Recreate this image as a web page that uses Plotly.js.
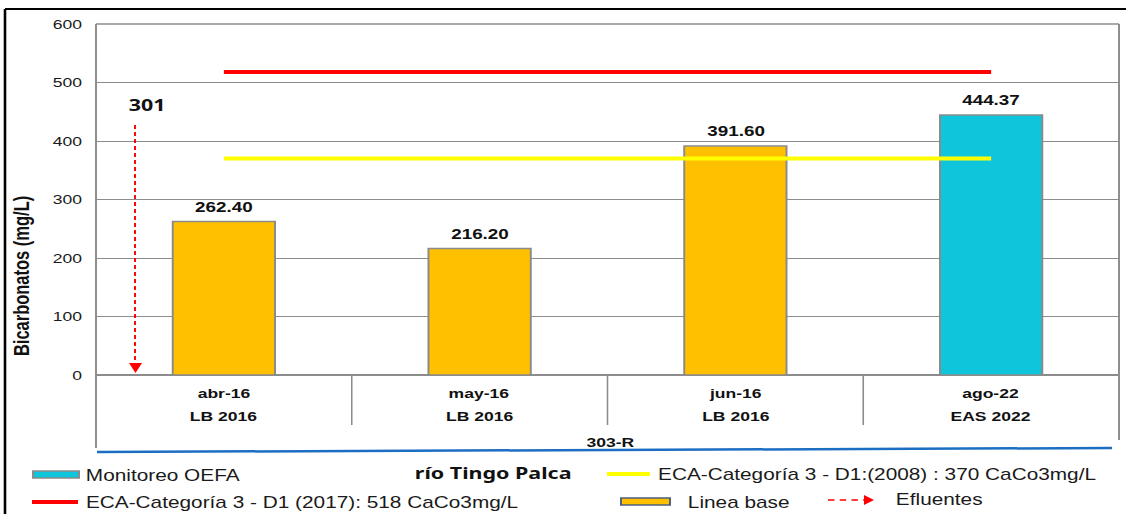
<!DOCTYPE html>
<html>
<head>
<meta charset="utf-8">
<script src="https://cdn.plot.ly/plotly-3.0.1.min.js"></script>
<style>
  html, body { margin: 0; padding: 0; background: #fff; overflow: hidden; }
  #chart { width: 866px; height: 514px; transform: scaleX(1.30023); transform-origin: 0 0; }
</style>
</head>
<body>
<div id="chart"></div>
<script>
// ---- data ----
const months = ["abr-16", "may-16", "jun-16", "ago-22"];
const campaigns = ["LB 2016", "LB 2016", "LB 2016", "EAS 2022"];
const sources = ["Linea base", "Linea base", "Linea base", "Monitoreo OEFA"];
const bicarbonatos = [262.40, 216.20, 391.60, 444.37];
const eca2017 = 518;
const eca2008 = 370;
const yTicks = [0, 100, 200, 300, 400, 500, 600];
const stationLabel = "303-R";
const riverLabel = "río Tingo Palca";
const effluentLabel = "301";
const legendLabels = {
  oefa: "Monitoreo OEFA",
  eca2008: "ECA-Categoría 3 - D1:(2008) : 370 CaCo3mg/L",
  eca2017: "ECA-Categoría 3 - D1 (2017): 518 CaCo3mg/L",
  base: "Linea base",
  effl: "Efluentes"
};

// ---- styling helpers ----
const W = 1126, H = 514;
const px = x => x / W;           // target pixel -> paper x
const py = y => 1 - y / H;       // target pixel -> paper y
const ORANGE = "#FFC000", CYAN = "#0EC5DC", GRID = "#8c8c8c";
const FONT = "Liberation Sans, Arial, sans-serif";

const traces = [
  {
    type: "bar",
    x: months,
    y: bicarbonatos,
    width: 0.4,
    marker: {
      color: sources.map(s => s === "Linea base" ? ORANGE : CYAN),
      line: { color: "#8a8a8a", width: 1.5 }
    },
    hoverinfo: "skip"
  },
  {
    type: "scatter", mode: "lines",
    x: [months[0], months[months.length - 1]],
    y: [eca2008, eca2008],
    line: { color: "#FFFF00", width: 4 },
    hoverinfo: "skip"
  },
  {
    type: "scatter", mode: "lines",
    x: [months[0], months[months.length - 1]],
    y: [eca2017, eca2017],
    line: { color: "#FF0000", width: 4 },
    hoverinfo: "skip"
  }
];

const shapes = [
  // outer frame
  { type: "line", xref: "paper", yref: "paper", x0: px(5), x1: px(5), y0: py(9), y1: py(516), line: { color: "#000", width: 2 } },
  { type: "line", xref: "paper", yref: "paper", x0: px(5), x1: px(1130), y0: py(9), y1: py(9), line: { color: "#000", width: 2 } },
  // plot borders
  { type: "line", xref: "paper", yref: "paper", x0: px(96), x1: px(1119), y0: py(24), y1: py(24), line: { color: GRID, width: 1.5 } },
  { type: "line", xref: "paper", yref: "paper", x0: px(96), x1: px(96), y0: py(24), y1: py(448), line: { color: GRID, width: 1.5 } },
  { type: "line", xref: "paper", yref: "paper", x0: px(1119), x1: px(1119), y0: py(24), y1: py(440), line: { color: GRID, width: 1.5 } },
  // blue river line
  { type: "line", xref: "paper", yref: "paper", x0: px(97), x1: px(1112), y0: py(452), y1: py(448), line: { color: "#1B6EC2", width: 2.5 } },
  // effluent dashed arrow
  { type: "line", xref: "paper", yref: "paper", x0: px(135), x1: px(135), y0: py(125), y1: py(363), line: { color: "#FF0000", width: 1.5, dash: "4px,3px" } },
  { type: "path", xref: "paper", yref: "paper",
    path: `M ${px(129)} ${py(363)} L ${px(142)} ${py(363)} L ${px(135.5)} ${py(373)} Z`,
    fillcolor: "#FF0000", line: { width: 0 } },
  // legend symbols
  { type: "rect", xref: "paper", yref: "paper", x0: px(33), x1: px(79), y0: py(471), y1: py(478), fillcolor: CYAN, line: { color: "#8a8a8a", width: 1.5 } },
  { type: "line", xref: "paper", yref: "paper", x0: px(607), x1: px(650), y0: py(474), y1: py(474), line: { color: "#FFFF00", width: 4 } },
  { type: "line", xref: "paper", yref: "paper", x0: px(32), x1: px(78), y0: py(502), y1: py(502), line: { color: "#FF0000", width: 4 } },
  { type: "rect", xref: "paper", yref: "paper", x0: px(621), x1: px(670), y0: py(498), y1: py(505), fillcolor: ORANGE, line: { color: "#4f5f7f", width: 1.5 } },
  { type: "line", xref: "paper", yref: "paper", x0: px(828), x1: px(864), y0: py(500), y1: py(500), line: { color: "#FF0000", width: 1.5, dash: "5px,4px" } },
  { type: "path", xref: "paper", yref: "paper",
    path: `M ${px(864)} ${py(495)} L ${px(874)} ${py(500)} L ${px(864)} ${py(505)} Z`,
    fillcolor: "#FF0000", line: { width: 0 } }
];
// category separators below the axis
for (let i = 0; i < months.length - 1; i++) {
  shapes.push({ type: "line", xref: "x", yref: "paper", x0: i + 0.5, x1: i + 0.5, y0: py(375), y1: py(425), line: { color: GRID, width: 1.2 } });
}

function ann(o) {
  return Object.assign({ showarrow: false, xanchor: "center", yanchor: "middle" }, o);
}

const annotations = [];
months.forEach((m, i) => {
  // value labels above bars
  annotations.push(ann({ xref: "x", yref: "y", x: m, y: bicarbonatos[i], yanchor: "bottom", yshift: 5,
    text: "<b>" + bicarbonatos[i].toFixed(2) + "</b>",
    font: { family: FONT, size: 14.5, color: "#111" } }));
  annotations.push(ann({ xref: "x", yref: "paper", x: m, y: py(393), text: "<b>" + m + "</b>",
    font: { family: FONT, size: 13.5, color: "#111" } }));
  annotations.push(ann({ xref: "x", yref: "paper", x: m, y: py(416), text: "<b>" + campaigns[i] + "</b>",
    font: { family: FONT, size: 13.5, color: "#111" } }));
});
annotations.push(
  ann({ xref: "paper", yref: "paper", x: px(610), y: py(442), text: "<b>" + stationLabel + "</b>",
    font: { family: FONT, size: 13.5, color: "#111" } }),
  ann({ xref: "paper", yref: "paper", x: px(21), y: py(276), text: "<b>Bicarbonatos (mg/L)</b>", textangle: -90,
    font: { family: FONT, size: 16.5, color: "#111" } }),
  ann({ xref: "paper", yref: "paper", x: px(147), y: py(105), text: "<b>" + effluentLabel + "</b>",
    font: { family: "Noto Sans, sans-serif", size: 16.5, color: "#111" } }),
  ann({ xref: "paper", yref: "paper", x: px(493), y: py(472), text: "<b>" + riverLabel + "</b>",
    font: { family: "Noto Sans, sans-serif", size: 16.5, color: "#111" } }),
  ann({ xref: "paper", yref: "paper", x: px(83), y: py(475), xanchor: "left", text: legendLabels.oefa,
    font: { family: FONT, size: 16, color: "#1a1a1a" } }),
  ann({ xref: "paper", yref: "paper", x: px(655), y: py(474), xanchor: "left", text: legendLabels.eca2008,
    font: { family: FONT, size: 16, color: "#1a1a1a" } }),
  ann({ xref: "paper", yref: "paper", x: px(83), y: py(502), xanchor: "left", text: legendLabels.eca2017,
    font: { family: FONT, size: 16, color: "#1a1a1a" } }),
  ann({ xref: "paper", yref: "paper", x: px(685), y: py(502), xanchor: "left", text: legendLabels.base,
    font: { family: FONT, size: 16, color: "#1a1a1a" } }),
  ann({ xref: "paper", yref: "paper", x: px(893), y: py(499), xanchor: "left", text: legendLabels.effl,
    font: { family: FONT, size: 16, color: "#1a1a1a" } })
);

const layout = {
  width: 866, height: 514,
  margin: { l: 0, r: 0, t: 0, b: 0 },
  paper_bgcolor: "#fff", plot_bgcolor: "#fff",
  showlegend: false,
  xaxis: {
    type: "category",
    domain: [96 / W, 1119 / W],
    range: [-0.5, months.length - 0.5],
    showticklabels: false, showgrid: false, zeroline: false, showline: false, ticks: ""
  },
  yaxis: {
    domain: [py(375), py(24)],
    range: [0, 600],
    tickvals: yTicks,
    ticks: "outside", ticklen: 7, tickcolor: "rgba(0,0,0,0)",
    tickfont: { family: FONT, size: 13.5, color: "#1a1a1a" },
    showgrid: true, gridcolor: GRID, gridwidth: 1,
    zeroline: true, zerolinecolor: GRID, zerolinewidth: 1.5,
    showline: false
  },
  shapes: shapes,
  annotations: annotations
};

Plotly.newPlot("chart", traces, layout, { staticPlot: true, displayModeBar: false });
</script>
</body>
</html>
